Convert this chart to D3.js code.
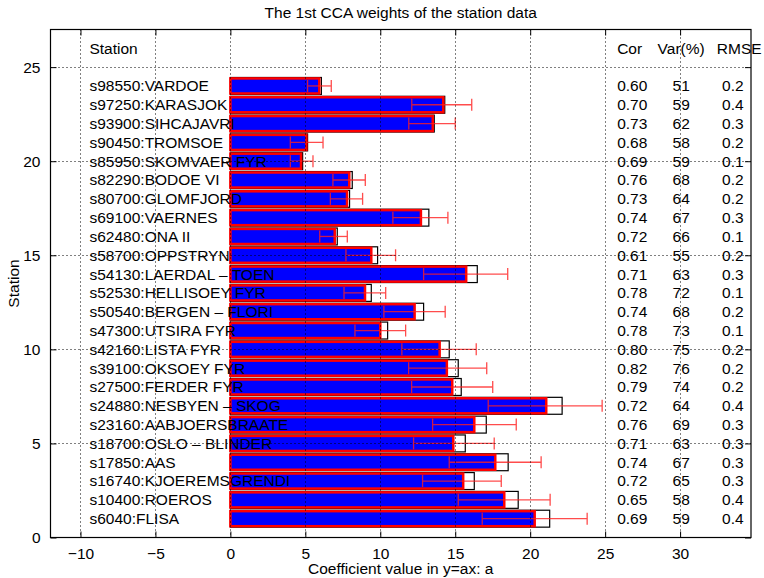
<!DOCTYPE html>
<html>
<head>
<meta charset="utf-8">
<script src="https://cdn.jsdelivr.net/npm/d3@7"></script>
<style>
  body { margin: 0; background: #fff; }
  svg { font-family: "Liberation Sans", Arial, Helvetica, sans-serif; }
</style>
</head>
<body>
<svg id="chart" width="764" height="578"></svg>
<script>
// stations, top row first
const stations = [
  "s98550:VARDOE", "s97250:KARASJOK", "s93900:SIHCAJAVRI", "s90450:TROMSOE",
  "s85950:SKOMVAER FYR", "s82290:BODOE VI", "s80700:GLOMFJORD", "s69100:VAERNES",
  "s62480:ONA II", "s58700:OPPSTRYN", "s54130:LAERDAL – TOEN", "s52530:HELLISOEY FYR",
  "s50540:BERGEN – FLORI", "s47300:UTSIRA FYR", "s42160:LISTA FYR", "s39100:OKSOEY FYR",
  "s27500:FERDER FYR", "s24880:NESBYEN – SKOG", "s23160:AABJOERSBRAATE", "s18700:OSLO – BLINDER",
  "s17850:AAS", "s16740:KJOEREMSGRENDI", "s10400:ROEROS", "s6040:FLISA"
];
const weights = [5.93, 14.2, 13.5, 5.07, 4.71, 7.93, 7.78, 12.71, 6.96, 9.4, 15.73, 8.98,
  12.29, 10.0, 13.96, 14.44, 14.8, 21.07, 16.27, 14.87, 17.67, 15.53, 18.27, 20.3];
const weightsRef = [6.07, 14.3, 13.6, 5.15, 4.82, 8.13, 7.95, 13.24, 7.13, 9.82, 16.47, 9.4,
  12.89, 10.49, 14.6, 15.2, 15.4, 22.13, 17.07, 15.67, 18.53, 16.27, 19.2, 21.3];
const errLow = [5.15, 12.1, 11.9, 4.0, 4.0, 6.84, 6.67, 10.84, 5.96, 7.71, 12.89, 7.58,
  10.24, 8.31, 11.44, 11.89, 12.09, 17.2, 13.49, 12.22, 14.6, 12.82, 15.2, 16.8];
const errHigh = [6.73, 16.1, 15.0, 6.18, 5.51, 9.0, 8.82, 14.51, 7.8, 11.02, 18.5, 10.36,
  14.33, 11.69, 16.4, 17.1, 17.5, 24.8, 19.07, 17.6, 20.73, 18.07, 21.33, 23.8];
const cor = ["0.60", "0.70", "0.73", "0.68", "0.69", "0.76", "0.73", "0.74", "0.72", "0.61", "0.71", "0.78",
  "0.74", "0.78", "0.80", "0.82", "0.79", "0.72", "0.76", "0.71", "0.74", "0.72", "0.65", "0.69"];
const variance = ["51", "59", "62", "58", "59", "68", "64", "67", "66", "55", "63", "72",
  "68", "73", "75", "76", "74", "64", "69", "63", "67", "65", "58", "59"];
const rmse = ["0.2", "0.4", "0.3", "0.2", "0.1", "0.2", "0.2", "0.3", "0.1", "0.2", "0.3", "0.1",
  "0.2", "0.1", "0.2", "0.2", "0.2", "0.4", "0.3", "0.3", "0.3", "0.3", "0.4", "0.4"];
const xTicks = [-10, -5, 0, 5, 10, 15, 20, 25, 30];
const yTicks = [0, 5, 10, 15, 20, 25];

const plotLeft = 50.5, plotRight = 751, plotTop = 29.5, plotBottom = 537.5;
const svg = d3.select("#chart");
const x = d3.scaleLinear().domain([-12, 34.73]).range([plotLeft, plotRight]);
const y = d3.scaleLinear().domain([0, 27]).range([plotBottom, plotTop]);

const rows = stations.map((s, i) => ({
  name: s, pos: stations.length - i, w: weights[i], ref: weightsRef[i],
  lo: errLow[i], hi: errHigh[i], cor: cor[i], v: variance[i], rmse: rmse[i]
}));

const fontSize = 15.5;

// reference bars (black outline)
svg.append("g").selectAll("rect").data(rows).join("rect")
  .attr("x", x(0))
  .attr("y", (d) => y(d.pos + 0.45))
  .attr("width", (d) => x(d.ref) - x(0))
  .attr("height", y(0) - y(0.9))
  .attr("fill", "#fff")
  .attr("stroke", "#000")
  .attr("stroke-width", 1.2);

// weight bars (blue, red edge)
svg.append("g").selectAll("rect").data(rows).join("rect")
  .attr("x", x(0))
  .attr("y", (d) => y(d.pos + 0.4))
  .attr("width", (d) => x(d.w) - x(0))
  .attr("height", y(0) - y(0.8))
  .attr("fill", "#0000ff")
  .attr("stroke", "#ff0000")
  .attr("stroke-width", 2.5);

// error bars
const eb = svg.append("g").attr("stroke", "#ff2020").attr("stroke-width", 1.3).attr("opacity", 0.8);
rows.forEach((d) => {
  eb.append("line").attr("x1", x(d.lo)).attr("x2", x(d.hi)).attr("y1", y(d.pos)).attr("y2", y(d.pos));
  [d.lo, d.hi].forEach((v) => {
    eb.append("line").attr("x1", x(v)).attr("x2", x(v))
      .attr("y1", y(d.pos) - 6).attr("y2", y(d.pos) + 6);
  });
});

// dotted grid
const grid = svg.append("g").attr("stroke", "#000").attr("stroke-width", 1)
  .attr("stroke-dasharray", "1,3");
grid.selectAll("line.v").data(xTicks).join("line").attr("class", "v")
  .attr("x1", (d) => Math.round(x(d)) + 0.5).attr("x2", (d) => Math.round(x(d)) + 0.5)
  .attr("y1", plotTop).attr("y2", plotBottom);
grid.selectAll("line.h").data(yTicks.filter((d) => d > 0)).join("line").attr("class", "h")
  .attr("y1", (d) => Math.round(y(d)) + 0.5).attr("y2", (d) => Math.round(y(d)) + 0.5)
  .attr("x1", plotLeft).attr("x2", plotRight);

// table text
const colName = -9.4, colCor = 25.8, colVar = 29.5, colRmse = 32.8;
const colVarHead = 28.5, colRmseHead = 32.45;
const txt = svg.append("g").attr("font-size", fontSize).attr("fill", "#000");
const header = [["Station", colName], ["Cor", colCor], ["Var(%)", colVarHead], ["RMSE", colRmseHead]];
header.forEach(([t, c]) => {
  txt.append("text").attr("x", x(c)).attr("y", y(26)).attr("dy", "0.35em").text(t);
});
rows.forEach((d) => {
  [[d.name, colName], [d.cor, colCor], [d.v, colVar], [d.rmse, colRmse]].forEach(([t, c]) => {
    txt.append("text").attr("x", x(c)).attr("y", y(d.pos)).attr("dy", "0.35em").text(t);
  });
});

// axes
const xAxis = svg.append("g").attr("transform", `translate(0,${plotBottom})`)
  .call(d3.axisBottom(x).tickValues(xTicks).tickSizeInner(-6).tickSizeOuter(0).tickPadding(10));
const yAxis = svg.append("g").attr("transform", `translate(${plotLeft},0)`)
  .call(d3.axisLeft(y).tickValues(yTicks).tickSizeInner(-6).tickSizeOuter(0).tickPadding(10));
svg.append("g").attr("transform", `translate(0,${plotTop})`)
  .call(d3.axisTop(x).tickValues(xTicks).tickSizeInner(-6).tickSizeOuter(0).tickFormat(""));
svg.append("g").attr("transform", `translate(${plotRight},0)`)
  .call(d3.axisRight(y).tickValues(yTicks).tickSizeInner(-6).tickSizeOuter(0).tickFormat(""));
svg.selectAll(".domain").remove();
[xAxis, yAxis].forEach((a) => a.selectAll("text")
  .attr("font-family", "Liberation Sans, Arial, sans-serif").attr("font-size", fontSize).attr("fill", "#000"));

svg.append("rect").attr("x", plotLeft).attr("y", plotTop)
  .attr("width", plotRight - plotLeft).attr("height", plotBottom - plotTop)
  .attr("fill", "none").attr("stroke", "#000").attr("stroke-width", 1.2);

// labels
svg.append("text").attr("x", (plotLeft + plotRight) / 2).attr("y", 18).attr("text-anchor", "middle")
  .attr("font-size", fontSize).text("The 1st CCA weights of the station data");
svg.append("text").attr("x", (plotLeft + plotRight) / 2).attr("y", 574).attr("text-anchor", "middle")
  .attr("font-size", fontSize).text("Coefficient value in y=ax: a");
svg.append("text").attr("transform", `translate(19,${(plotTop + plotBottom) / 2}) rotate(-90)`)
  .attr("text-anchor", "middle").attr("font-size", fontSize).text("Station");
</script>
</body>
</html>
